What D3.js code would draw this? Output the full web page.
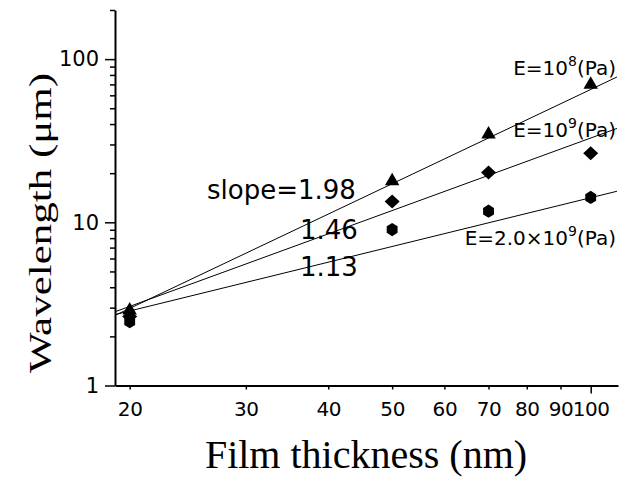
<!DOCTYPE html>
<html>
<head>
<meta charset="utf-8">
<script src="https://cdn.jsdelivr.net/npm/d3@7"></script>
<style>
    body { margin: 0; background: #fff; }
    .axis text { font-family: "DejaVu Sans", sans-serif; font-size: 21px; fill: #000; }
    .axis path, .axis line { stroke: #000; }
    .note { font-family: "DejaVu Sans", sans-serif; fill: #000; }
    .title { font-family: "Liberation Serif", "Times New Roman", serif; fill: #000; }
</style>
</head>
<body>
<script>
// Wavelength vs film thickness on log-log axes, three moduli with fits.

// Data
var thickness = [20, 50, 70, 100];
var wlE8 = [2.89, 17.9, 34.6, 69.8];      // E = 10^8 Pa, triangles
var wlE9 = [2.65, 13.4, 20.2, 26.5];      // E = 10^9 Pa, diamonds
var wlE2e9 = [2.46, 9.03, 11.7, 14.2];    // E = 2.0x10^9 Pa, hexagons

// Fitted power laws, given at the two ends of the x range
var fitX = [19, 109.6];
var fitE8 = [2.69, 77.7];
var fitE9 = [2.83, 37.6];
var fitE2e9 = [2.72, 15.5];

// Tick values
var xTicks = [20, 30, 40, 50, 60, 70, 80, 90, 100];
var yMajor = [1, 10, 100];
var yMinor = [2, 3, 4, 5, 6, 7, 8, 9, 20, 30, 40, 50, 60, 70, 80, 90, 200];

var W = 630, H = 481;

var svg = d3.select("body").append("svg")
    .attr("width", W)
    .attr("height", H);

// Plot box: left axis at x=115, bottom axis at y=385.5
var xScale = d3.scaleLog().domain([19, 110]).range([115, 618]);
var yScale = d3.scaleLog().domain([1, 200]).range([385.5, 10]);

// X axis, ticks point down, the decade tick is longer
var xAxisG = svg.append("g")
    .attr("class", "axis")
    .attr("transform", "translate(0," + yScale(1) + ")")
    .call(d3.axisBottom(xScale)
        .tickValues(xTicks)
        .tickSizeOuter(0)
        .tickFormat(d3.format("d")));
xAxisG.select(".domain").attr("stroke-width", 2);
xAxisG.selectAll(".tick line")
    .attr("stroke-width", 1.5)
    .attr("y2", function(d) { return d === 100 ? 8 : 4; });
// "90" and "100" sit almost touching, as in the original
xAxisG.selectAll(".tick text")
    .attr("y", 16)
    .style("font-size", "20px")
    .style("letter-spacing", "-0.4px");

// Y axis, major ticks with labels
var yAxisG = svg.append("g")
    .attr("class", "axis")
    .attr("transform", "translate(" + xScale(19) + ",0)")
    .call(d3.axisLeft(yScale)
        .tickValues(yMajor)
        .tickSize(10)
        .tickSizeOuter(0)
        .tickFormat(d3.format("d")));
yAxisG.select(".domain").attr("stroke-width", 2);
yAxisG.selectAll(".tick line").attr("stroke-width", 1.5);
yAxisG.selectAll(".tick text").attr("x", -16);

// Y axis minor ticks
var yMinorG = svg.append("g")
    .attr("class", "axis")
    .attr("transform", "translate(" + xScale(19) + ",0)")
    .call(d3.axisLeft(yScale)
        .tickValues(yMinor)
        .tickSize(5)
        .tickSizeOuter(0)
        .tickFormat(""));
yMinorG.select(".domain").remove();
yMinorG.selectAll(".tick line").attr("stroke-width", 1.5);

// Fit lines
var line = d3.line()
    .x(function(d) { return xScale(d[0]); })
    .y(function(d) { return yScale(d[1]); });

[fitE8, fitE9, fitE2e9].forEach(function(fit) {
    svg.append("path")
        .datum(d3.zip(fitX, fit))
        .attr("d", line)
        .attr("fill", "none")
        .attr("stroke", "#000")
        .attr("stroke-width", 1);
});

// Marker shapes
var triangle = d3.symbol().type(d3.symbolTriangle).size(90)();
var diamond = "M0,-7L7.5,0L0,7L-7.5,0Z";
var hexagon = (function() {
    var pts = d3.range(6).map(function(i) {
        var a = Math.PI / 3 * i - Math.PI / 2;
        return [6.6 * Math.cos(a) * 0.95, 6.6 * Math.sin(a)];
    });
    return "M" + pts.join("L") + "Z";
})();

var series = [
    {values: wlE8, shape: triangle},
    {values: wlE9, shape: diamond},
    {values: wlE2e9, shape: hexagon}
];

series.forEach(function(s) {
    svg.append("g").selectAll("path")
        .data(d3.zip(thickness, s.values))
        .enter()
        .append("path")
        .attr("d", s.shape)
        .attr("fill", "#000")
        .attr("transform", function(d) {
            return "translate(" + xScale(d[0]) + "," + yScale(d[1]) + ")";
        });
});

// Slope annotations
svg.append("text").attr("class", "note")
    .attr("x", 207).attr("y", 199)
    .style("font-size", "26px")
    .text("slope=1.98");
svg.append("text").attr("class", "note")
    .attr("x", 300).attr("y", 239)
    .style("font-size", "26px")
    .text("1.46");
svg.append("text").attr("class", "note")
    .attr("x", 300).attr("y", 276)
    .style("font-size", "26px")
    .text("1.13");

// Modulus labels with superscript exponents
function modulusLabel(y, pre, exp) {
    var t = svg.append("text").attr("class", "note")
        .attr("x", 616).attr("y", y)
        .attr("text-anchor", "end")
        .style("font-size", "20px");
    t.append("tspan").text(pre);
    t.append("tspan").attr("dy", -9).style("font-size", "14px").text(exp);
    t.append("tspan").attr("dy", 9).text("(Pa)");
}
modulusLabel(75, "E=10", "8");
modulusLabel(137, "E=10", "9");
modulusLabel(245, "E=2.0\u00d710", "9");

// Axis titles
svg.append("text").attr("class", "title")
    .attr("x", 366).attr("y", 468)
    .attr("text-anchor", "middle")
    .style("font-size", "40px")
    .text("Film thickness (nm)");

svg.append("text").attr("class", "title")
    .attr("transform", "translate(51,223) rotate(-90)")
    .attr("text-anchor", "middle")
    .attr("textLength", 300)
    .attr("lengthAdjust", "spacingAndGlyphs")
    .style("font-size", "31px")
    .text("Wavelength (\u03bcm)");
</script>
</body>
</html>
